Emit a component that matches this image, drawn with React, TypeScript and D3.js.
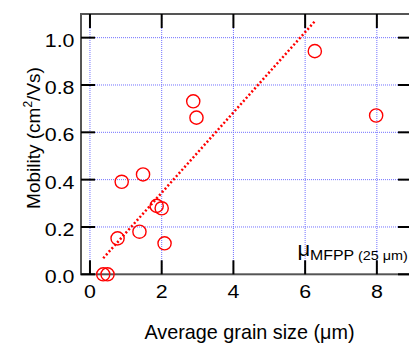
import React from "react";
import * as d3 from "d3";

const grainSize = [6.27, 7.98, 2.88, 2.97, 1.48, 0.885, 0.77, 1.38, 1.86, 2.0, 2.08, 0.37, 0.49];
const mobility = [0.943, 0.671, 0.731, 0.662, 0.422, 0.391, 0.152, 0.18, 0.289, 0.279, 0.131, 0.0, 0.0];
const fitX = [0.37, 6.27];
const fitY = [0.068, 1.069];
const xTicks = [0, 2, 4, 6, 8];
const yTicks = [0.0, 0.2, 0.4, 0.6, 0.8, 1.0];

const W = 409, H = 344;
const L = 81, T = 14, R = 412, B = 274.3;
const SX = 1.15;

export default function App() {
  const x = d3.scaleLinear().domain([-0.25, 8.98]).range([L, R]);
  const y = d3.scaleLinear().domain([0, 1.1]).range([B, T]);
  const font = "'Liberation Sans', Arial, Helvetica, sans-serif";
  const line = d3.line<number>().x((d, i) => x(fitX[i])).y((d, i) => y(fitY[i]));
  return (
    <svg width={W} height={H} style={{ position: "absolute", left: 0, top: 0 }} fontFamily={font}>
      <rect width={W} height={H} fill="#fff" />
      {/* grid */}
      {xTicks.map((t) => (
        <line key={"gx" + t} x1={x(t)} x2={x(t)} y1={T} y2={B} stroke="#7070ff" strokeWidth={1} strokeDasharray="1,1" />
      ))}
      {yTicks.filter((t) => t > 0).map((t) => (
        <line key={"gy" + t} x1={L} x2={R} y1={y(t)} y2={y(t)} stroke="#7070ff" strokeWidth={1} strokeDasharray="1,1" />
      ))}
      {/* frame */}
      <rect x={L} y={T} width={R - L} height={B - T} fill="none" stroke="#555" strokeWidth={2} />
      {/* ticks */}
      {xTicks.map((t) => (
        <g key={"tx" + t}>
          <line x1={x(t)} x2={x(t)} y1={B} y2={B - 14} stroke="#000" strokeWidth={2} />
          <line x1={x(t)} x2={x(t)} y1={T} y2={T + 14} stroke="#000" strokeWidth={2} />
          <text transform={`translate(${x(t)},298) scale(${SX},1)`} textAnchor="middle" fontSize={18.6} fill="#000">{d3.format("d")(t)}</text>
        </g>
      ))}
      {yTicks.map((t) => (
        <g key={"ty" + t}>
          <line x1={L} x2={L + 14} y1={y(t)} y2={y(t)} stroke="#000" strokeWidth={2} />
          <line x1={R - 14} x2={R} y1={y(t)} y2={y(t)} stroke="#000" strokeWidth={2} />
          <text transform={`translate(74.5,${y(t) + 9}) scale(${SX},1)`} textAnchor="end" fontSize={18.6} fill="#000">{d3.format(".1f")(t)}</text>
        </g>
      ))}
      {/* fit line */}
      <path d={line(fitX) || ""} fill="none" stroke="#ff0000" strokeWidth={2.5} strokeDasharray="2,2.2" />
      {/* points */}
      {grainSize.map((g, i) => (
        <circle key={"p" + i} cx={x(g)} cy={y(mobility[i])} r={6.6} fill="none" stroke="#ff0000" strokeWidth={1.4} />
      ))}
      {/* annotation */}
      <text transform="translate(297.5,255.5) scale(1.1,1)" fontSize={20} fill="#000">μ</text>
      <text transform="translate(310,259.5) scale(1.12,1)" fontSize={14.2} fill="#000">MFPP</text>
      <text transform="translate(358,259.5) scale(1.15,1)" fontSize={12.5} fill="#000">(25 μm)</text>
      {/* axis labels */}
      <text x={249.5} y={339} textAnchor="middle" fontSize={19.8} fill="#000">Average grain size (μm)</text>
      <text transform={`translate(40,138) rotate(-90)`} textAnchor="middle" fontSize={19} fill="#000">
        Mobility (cm<tspan fontSize={12} dy={-8}>2</tspan><tspan dy={8}>/Vs)</tspan>
      </text>
    </svg>
  );
}
